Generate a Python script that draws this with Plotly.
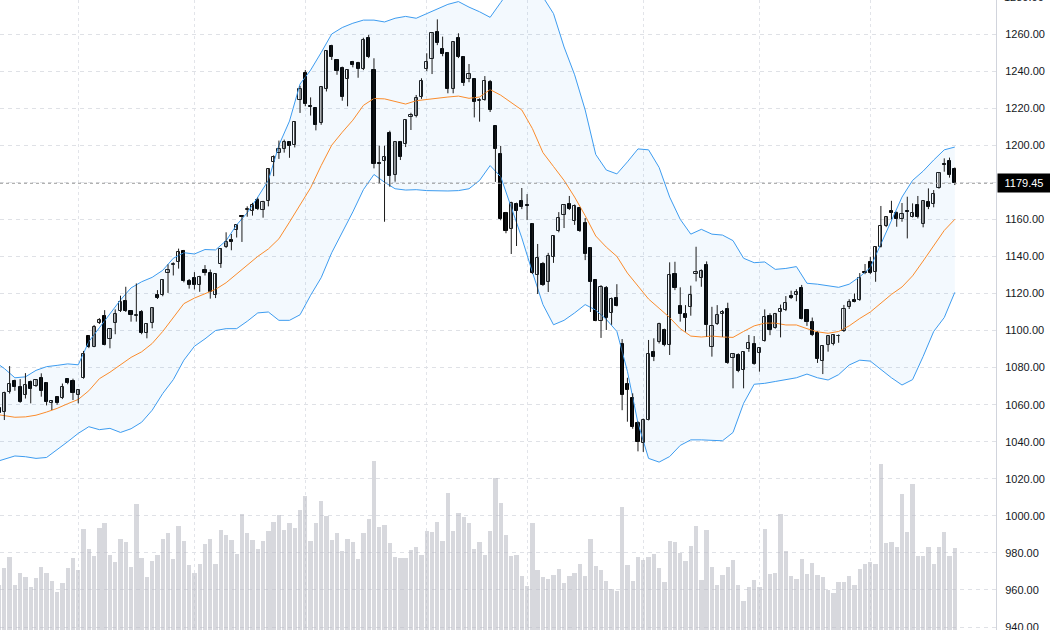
import plotly.graph_objects as go

# ---------------- data ----------------
first_index = -1
opens = [1058.2, 1055.8, 1067, 1072.7, 1069.7, 1065, 1072.4, 1070.3, 1074.2, 1071.8, 1061, 1064.3, 1063.4, 1073.6, 1072.7, 1065.2,
         1074.4, 1097, 1091.3, 1104, 1107.6, 1095.2, 1103.9, 1110.5, 1116.1, 1110.5, 1108, 1109.8, 1098.5, 1103.9, 1118.9,
         1119, 1131.2, 1135.5, 1136.8, 1143.1, 1126.5, 1128.4, 1124.6, 1132.5, 1131.2, 1119.4, 1135.8, 1145.2, 1148.7, 1154.5,
         1161.8, 1165.2, 1164.6, 1170.2, 1165.3, 1169.8, 1191.1, 1195.6, 1198.2, 1201.6, 1200.1, 1224.3, 1239.1, 1221, 1219.9,
         1211.9, 1230.4, 1253.7, 1246, 1241.5, 1235.5, 1245, 1244.3, 1241, 1257.6, 1240.6, 1190.6, 1191.6, 1206.8, 1184,
         1201.7, 1200.6, 1215.4, 1215.5, 1225.8, 1241.1, 1246.3, 1261.2, 1251.8, 1249.5, 1230.2, 1257.7, 1247.4, 1235.5, 1235.5,
         1223.8, 1224.4, 1234, 1210.2, 1195.5, 1163.3, 1154.9, 1168.3, 1169.8, 1167.5, 1157.5, 1129.8, 1135.9, 1126, 1139.5,
         1153.6, 1162.2, 1168.3, 1159, 1166.1, 1157.9, 1144.5, 1127.2, 1105.2, 1123.2, 1109.2, 1117.8, 1092.8, 1071.4, 1063.5,
         1050.2, 1039.5, 1051.9, 1088.4, 1093.9, 1100.3, 1092.2, 1130.5, 1113.2, 1108.9, 1112.5, 1130.7, 1128.5, 1135.3, 1091.3,
         1103.3, 1109, 1111.6, 1085.3, 1086.8, 1078.5, 1090, 1092.5, 1087.7, 1094.3, 1107.9, 1101.4, 1109.8, 1111, 1118.6,
         1119.2, 1123.2, 1111.1, 1104.8, 1098.8, 1083.7, 1092.2, 1092.5, 1096.8, 1099.7, 1112.9, 1116.5, 1116.5, 1131.4, 1137.1,
         1131.7, 1145.2, 1156.4, 1164.5, 1163.6, 1160, 1164.5, 1161.4, 1167.7, 1157.3, 1169.5, 1168.3, 1176.7, 1189.8, 1191.5,
         1187.1]
highs = [1059.5, 1067, 1080.8, 1073.5, 1073.8, 1077, 1073, 1073.8, 1076.9, 1072.2, 1062.5, 1064.6, 1071.4, 1074, 1074, 1068,
         1089, 1097.4, 1103, 1106.7, 1111, 1101, 1111.4, 1118.8, 1123.6, 1111, 1125.4, 1111, 1104, 1112.5, 1121.8,
         1127.8, 1135.7, 1136.8, 1144.2, 1143.5, 1127.8, 1131.5, 1129.5, 1135.3, 1132.9, 1131, 1144.5, 1153, 1152.1, 1157,
         1162, 1167, 1168.9, 1171.7, 1170, 1187.5, 1194.5, 1202.5, 1203, 1202, 1213, 1232, 1240.6, 1225.8, 1220.3,
         1231.5, 1251, 1254.2, 1246.5, 1242.4, 1241, 1245.5, 1245, 1258, 1259.5, 1246.9, 1199.7, 1199.7, 1207.8, 1202.2,
         1202.3, 1214, 1217.5, 1227.1, 1236.1, 1249.6, 1260.8, 1267.9, 1258.6, 1250.3, 1256, 1260.4, 1248, 1243.8, 1236,
         1225.3, 1237.3, 1235.2, 1210.5, 1199.6, 1164, 1169.5, 1169, 1176.9, 1173.6, 1158, 1146.7, 1137, 1141.9, 1151.5,
         1163.9, 1168, 1172.6, 1168, 1166.5, 1160.7, 1145, 1127.5, 1124.5, 1124, 1117.8, 1125, 1095.4, 1074.5, 1066.1,
         1051, 1052.5, 1094.9, 1095.8, 1104.2, 1101, 1136.8, 1137.1, 1123.3, 1113.7, 1124.2, 1145.2, 1133, 1137.3, 1112.8,
         1113.7, 1111, 1115, 1087.5, 1087.7, 1088.8, 1097.6, 1097, 1091, 1111.4, 1109.3, 1109.5, 1114, 1118.6, 1121.5,
         1122.3, 1124.6, 1111.5, 1107, 1099.5, 1092, 1097.5, 1098, 1097.9, 1113.8, 1116.9, 1120, 1131, 1135.9, 1139.8,
         1145.5, 1167.2, 1161.6, 1170, 1164.2, 1168.8, 1172.2, 1168.6, 1172.6, 1170.2, 1176.7, 1175.8, 1185.2, 1192.9, 1193.3,
         1188]
lows = [1054.5, 1051.7, 1066, 1067.5, 1061, 1063.3, 1060.7, 1069.5, 1064.3, 1059.6, 1057.1, 1060, 1063, 1071, 1062.5, 1060.7,
        1074, 1090.5, 1091, 1103.5, 1092, 1090.4, 1098, 1110, 1110, 1104.8, 1104.8, 1098, 1095.8, 1101.2, 1117,
        1118.5, 1120.3, 1129.7, 1133.4, 1126, 1122.6, 1122.2, 1120.9, 1129.7, 1117.2, 1117.5, 1133.8, 1144.5, 1143.3, 1150.2,
        1147.8, 1161.4, 1162, 1165, 1160.9, 1167, 1183.3, 1192.6, 1196, 1193.2, 1198.8, 1217.4, 1221, 1216, 1208,
        1211, 1229, 1246, 1238, 1224, 1221, 1242, 1236.4, 1240.5, 1247, 1187.5, 1179.4, 1158.7, 1177.6, 1180.3,
        1192, 1199, 1208.2, 1215, 1225, 1240, 1238.4, 1254, 1248, 1228, 1228, 1247, 1232, 1234, 1215,
        1212.7, 1224, 1217.9, 1180.2, 1159.5, 1152.5, 1141.3, 1145.6, 1165.5, 1159.6, 1130.5, 1119.7, 1124, 1120.8, 1136.5,
        1153, 1155.3, 1165, 1157, 1153.2, 1138, 1110, 1105, 1096, 1100.3, 1103.1, 1113, 1057, 1050.8, 1047,
        1034.8, 1034.5, 1051.5, 1083.5, 1093, 1091.5, 1086.8, 1121.8, 1104.8, 1099.4, 1108, 1126.5, 1123.6, 1096.7, 1085.9,
        1103, 1096.6, 1082, 1068.8, 1077.5, 1068.8, 1088.5, 1081.5, 1077.8, 1094, 1097.5, 1101, 1096.3, 1110.5, 1117,
        1115.8, 1106, 1102.5, 1097, 1082.5, 1076.5, 1088.6, 1092, 1093.4, 1099.2, 1111.6, 1115.2, 1116, 1130.4, 1130.4,
        1126.3, 1144.8, 1155.8, 1160, 1156, 1158.7, 1149.7, 1161, 1160.5, 1155.7, 1165.5, 1166.5, 1176.5, 1185.7, 1182.5,
        1178.5]
closes = [1055.5, 1066.1, 1070.9, 1069.7, 1061.6, 1070.4, 1068.6, 1073.5, 1067.5, 1061.4, 1062.1, 1060.7, 1069.3, 1071.5, 1066.1, 1067.7,
          1087.1, 1090.9, 1102, 1105.6, 1092.3, 1100.6, 1109, 1115.5, 1110.5, 1108.4, 1108.6, 1098.5, 1103.7, 1111.9, 1117.3,
          1127.5, 1132.5, 1136, 1142.4, 1126.5, 1124.6, 1124.6, 1129.1, 1131, 1120.9, 1130.6, 1144.2, 1148, 1147.8, 1156.8,
          1161.1, 1165.5, 1167.6, 1165.5, 1169.3, 1187, 1193.4, 1198.2, 1201.9, 1199.7, 1212.4, 1230.5, 1222, 1220.5, 1211.1,
          1231.2, 1250.6, 1247.5, 1239.8, 1226.2, 1240.4, 1243.3, 1241.2, 1257, 1247.8, 1190.1, 1189.9, 1193.4, 1183.2, 1201.7,
          1193.5, 1213.4, 1216.3, 1225.4, 1234.8, 1244.7, 1260.3, 1255, 1249.1, 1230.2, 1255.5, 1247.8, 1233.7, 1238.4, 1223.5,
          1224.6, 1234.5, 1219.2, 1197.9, 1160, 1153.6, 1168.9, 1164.6, 1166.5, 1167, 1131.1, 1139.1, 1124.6, 1140.2, 1151,
          1160.7, 1167.6, 1165.7, 1167.2, 1153.6, 1141.3, 1126, 1105.2, 1123.5, 1107, 1117.2, 1113.4, 1065.3, 1067.9, 1047.8,
          1040, 1051.5, 1087.1, 1085.9, 1103.4, 1092.3, 1129.9, 1122.7, 1108.9, 1106.6, 1119.2, 1131.7, 1132.3, 1103, 1102.6,
          1108.3, 1109.8, 1082.6, 1087.1, 1078.3, 1088.2, 1093.1, 1081.7, 1090.4, 1107.1, 1100.5, 1108.7, 1111.4, 1115, 1117.3,
          1121, 1106.4, 1104.4, 1097.6, 1084.4, 1091.6, 1097, 1097.6, 1097.3, 1111.6, 1115.5, 1115.6, 1128.1, 1130.8, 1130.8,
          1145.2, 1156.4, 1161.1, 1163.2, 1160.2, 1162.7, 1163.8, 1163.6, 1161, 1169.9, 1166.5, 1173.7, 1184.8, 1189.3, 1183.7,
          1179.45]
volumes = [45, 62, 73, 45, 57, 53, 43, 52, 63, 57, 49, 38, 47, 62, 72, 60,
           101, 81, 74, 102, 107, 75, 68, 91, 88, 63, 126, 72, 53, 69, 75,
           91, 97, 71, 104, 89, 65, 57, 66, 86, 91, 66, 100, 95, 90, 76,
           116, 97, 90, 81, 89, 99, 108, 115, 100, 107, 102, 120, 134, 89, 107,
           129, 114, 90, 97, 79, 91, 88, 71, 97, 111, 169, 103, 105, 87, 73,
           72, 72, 80, 83, 75, 99, 98, 108, 89, 137, 99, 117, 113, 107, 81,
           88, 75, 99, 152, 127, 95, 74, 75, 54, 44, 107, 60, 53, 51, 55,
           61, 47, 54, 57, 66, 54, 91, 64, 60, 49, 41, 39, 123, 65, 49,
           73, 70, 73, 76, 62, 48, 89, 88, 77, 69, 84, 104, 50, 100, 63,
           45, 55, 63, 70, 45, 29, 43, 50, 43, 101, 56, 57, 116, 79, 54,
           51, 71, 56, 67, 55, 53, 40, 37, 48, 48, 54, 45, 61, 66, 68,
           66, 166, 87, 88, 83, 136, 98, 146, 74, 74, 83, 66, 83, 98, 74,
           82]

# Bollinger band lines, read at every second bar
band_index = [-1] + list(range(0, 181, 2))
band_upper = [1081.5, 1079.5, 1074.5, 1075, 1078.5, 1080.5, 1081.2, 1082, 1081.5, 1094, 1101.5,
              1109, 1116.5, 1123, 1126.3, 1128.7, 1132.5, 1139, 1142, 1141.3, 1143.7,
              1143.5, 1148.5, 1157, 1163.5, 1172, 1181, 1200, 1213, 1233, 1240.5,
              1250, 1260, 1263.5, 1265.8, 1267.5, 1267.5, 1266.5, 1268.5, 1269.5, 1268.5,
              1271, 1273.5, 1276, 1277.5, 1274.5, 1272, 1269, 1277, 1285, 1289,
              1287, 1280, 1271, 1253, 1238, 1219, 1195, 1186.6, 1184.5, 1191,
              1198, 1197.5, 1188, 1172, 1160, 1152, 1154.6, 1152, 1151.5, 1148.5,
              1139, 1136.6, 1137, 1133, 1133.5, 1134.5, 1125.5, 1125, 1124, 1123.3,
              1125, 1129, 1134, 1147, 1160, 1172, 1181, 1186, 1192, 1197.5, 1199]
band_middle = [1054.5, 1054, 1053.2, 1053.4, 1054.3, 1056, 1058, 1060.5, 1062.8, 1067.5, 1074,
               1077.5, 1081.5, 1085.5, 1088.5, 1093, 1099.5, 1107, 1114.5, 1117.5, 1119.8,
               1122.2, 1125.8, 1130.5, 1135, 1140, 1144, 1149.5, 1158.5, 1168, 1177,
               1189, 1200, 1207, 1213.5, 1221.5, 1225.2, 1225, 1223.8, 1222.2, 1224,
               1224.8, 1225.3, 1226, 1226.5, 1225.3, 1226, 1230, 1227, 1223, 1219,
               1209, 1196, 1188.5, 1181, 1172, 1162, 1151, 1145, 1140, 1131,
               1124, 1117, 1112, 1107, 1101, 1097, 1096.5, 1097, 1096.5, 1096.3,
               1099.5, 1102.5, 1104, 1104, 1103, 1103, 1101, 1099.3, 1098.5, 1099.5,
               1102.5, 1106.5, 1110, 1115, 1119.5, 1123.5, 1129.5, 1137.5, 1145.5, 1154, 1160]
band_lower = [1029.7, 1030.5, 1032.3, 1031.9, 1031, 1031.5, 1035.5, 1040, 1044.5, 1048.1, 1046.5,
              1047.2, 1045, 1047, 1050.5, 1057, 1066, 1073.5, 1084, 1091.5, 1095.5,
              1100, 1101, 1101, 1105, 1109.5, 1110, 1105.5, 1105.5, 1108.5, 1119,
              1128.5, 1142, 1153, 1164, 1176, 1184.2, 1180, 1176.5, 1175.8, 1176,
              1175.5, 1175.3, 1175.3, 1175.5, 1176.5, 1181, 1189, 1183, 1166, 1150,
              1131.5, 1114, 1103.1, 1105.5, 1109.5, 1114, 1111, 1106, 1099.5, 1078,
              1050, 1031, 1029, 1032, 1038, 1041, 1041, 1040.8, 1040.5, 1045,
              1060.7, 1071, 1071.5, 1072.5, 1073.5, 1074.5, 1076.5, 1074.5, 1073.3, 1076.2,
              1081.4, 1084, 1083.5, 1079, 1074.5, 1070.6, 1073.5, 1086, 1099.5, 1107, 1120.6]

month_starts = [14, 36, 57, 80, 99, 121, 143, 164]
price_ticks = list(range(940, 1281, 20))
last_price = closes[-1]

# ---------------- figure ----------------
x = list(range(first_index, first_index + len(closes)))

fig = go.Figure()

# Bollinger band fill + lines
fig.add_trace(go.Scatter(x=band_index, y=band_lower, mode="lines",
                         line=dict(color="#3d9cf0", width=1), hoverinfo="skip", showlegend=False))
fig.add_trace(go.Scatter(x=band_index, y=band_upper, mode="lines",
                         line=dict(color="#3d9cf0", width=1), fill="tonexty",
                         fillcolor="rgba(33,150,243,0.055)", hoverinfo="skip", showlegend=False))
fig.add_trace(go.Scatter(x=band_index, y=band_middle, mode="lines",
                         line=dict(color="#fb8c2c", width=1), hoverinfo="skip", showlegend=False))

# volume bars on a hidden overlay axis
fig.add_trace(go.Bar(x=x, y=volumes, yaxis="y2", width=0.82,
                     marker=dict(color="rgba(186,188,196,0.58)", line=dict(width=0)),
                     hoverinfo="skip", showlegend=False))

# wicks
wx, wy = [], []
for xi, h, l in zip(x, highs, lows):
    wx += [xi, xi, None]
    wy += [l, h, None]
fig.add_trace(go.Scatter(x=wx, y=wy, mode="lines", line=dict(color="#1c1c1c", width=1),
                         hoverinfo="skip", showlegend=False))

# bodies
base, height, fill, edge = [], [], [], []
for o, c in zip(opens, closes):
    base.append(min(o, c))
    height.append(max(abs(c - o), 0.4))
    up = c >= o
    fill.append("#ffffff" if up else "#000000")
    edge.append("#1c1c1c" if up else "#000000")
fig.add_trace(go.Bar(x=x, y=height, base=base, width=0.6,
                     marker=dict(color=fill, line=dict(color=edge, width=1)),
                     hoverinfo="skip", showlegend=False))

y_lo, y_hi = 938.4, 1278.35
fig.update_layout(
    width=1050, height=630,
    margin=dict(l=0, r=54, t=0, b=0, autoexpand=False),
    paper_bgcolor="white", plot_bgcolor="white",
    barmode="overlay", bargap=0,
    showlegend=False,
    xaxis=dict(range=[-0.82, 187.8], tickmode="array", tickvals=month_starts,
               showticklabels=False, ticks="", showgrid=True, gridcolor="#e2e4e9",
               griddash="dot", gridwidth=1, zeroline=False, showline=False, automargin=False),
    yaxis=dict(side="right", range=[y_lo, y_hi], tickmode="array", tickvals=price_ticks,
               ticktext=[f"{v:.2f}" for v in price_ticks],
               showgrid=True, gridcolor="#dfe1e6", griddash="4px,4px", gridwidth=1,
               zeroline=False, showline=True, linecolor="#d1d4dc", linewidth=1,
               ticks="", ticklabelstandoff=6, ticklabeloverflow="allow", automargin=False,
               tickfont=dict(family="Liberation Sans, Arial, sans-serif", size=11, color="#131722")),
    yaxis2=dict(overlaying="y", range=[0, 630], visible=False),
    shapes=[dict(type="line", xref="paper", x0=0, x1=1, yref="y", y0=last_price, y1=last_price,
                 line=dict(color="#9a9a9a", width=1, dash="dot"), layer="above")],
    annotations=[
        dict(xref="paper", x=1, yref="y", y=last_price, text=f"{last_price:.2f}",
             showarrow=False, xanchor="left", yanchor="middle", xshift=1,
             bgcolor="#000000", borderpad=3, width=46,
             font=dict(family="Liberation Sans, Arial, sans-serif", size=11, color="white")),
        dict(xref="paper", x=1, yref="paper", y=(1280 - y_lo) / (y_hi - y_lo), text="1280.00",
             showarrow=False, xanchor="left", yanchor="middle", xshift=6,
             font=dict(family="Liberation Sans, Arial, sans-serif", size=11, color="#131722")),
    ],
)

fig.write_html("out.html")
